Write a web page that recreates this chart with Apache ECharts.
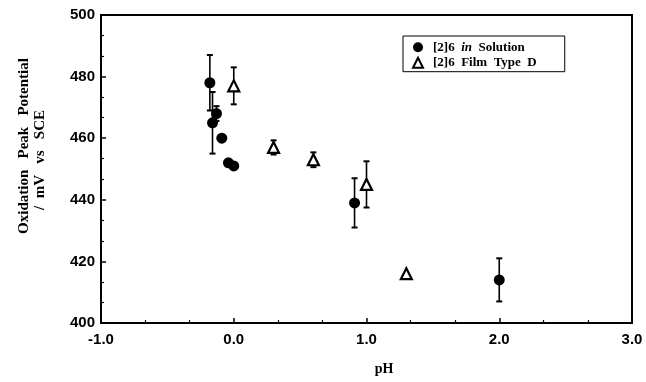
<!DOCTYPE html>
<html>
<head>
<meta charset="utf-8">
<script src="https://cdn.jsdelivr.net/npm/echarts@6/dist/echarts.min.js"></script>
<style>html,body{margin:0;padding:0;background:#fff;}#c{width:646px;height:382px;}</style>
</head>
<body>
<div id="c"></div>
<script>
// pH values, oxidation peak potentials (mV vs SCE) and error half-widths
const solutionPH = [-0.18, -0.16, -0.13, -0.09, -0.04, 0.0, 0.91, 2.0];
const solutionMV = [478, 465, 468, 460, 452, 451, 439, 414];
const solutionErr = [9, 10, 2.4, 0, 0, 0, 8, 7];

const filmPH = [0.0, 0.3, 0.6, 1.0, 1.3];
const filmMV = [477, 457, 453, 445, 416];
const filmErr = [6, 2.3, 2.4, 7.5, 0];

const xTicks = [-1.0, 0.0, 1.0, 2.0, 3.0];
const yTicks = [400, 420, 440, 460, 480, 500];

const seriesNames = ['[2]6 in Solution', '[2]6 Film Type D'];
const yTitle1 = 'Oxidation   Peak   Potential';
const yTitle2 = '/  mV   vs   SCE';
const xTitle = 'pH';

function zip3(a, b, c) { return a.map((v, i) => [v, b[i], c[i]]); }

function errorBar(params, api) {
  const x = api.value(0), y = api.value(1), e = api.value(2);
  if (!e) return null;
  const t = api.coord([x, y + e]);
  const b = api.coord([x, y - e]);
  const w = 3;
  return {
    type: 'group',
    children: [
      { type: 'line', shape: { x1: t[0], y1: t[1], x2: b[0], y2: b[1] }, style: { stroke: '#000', lineWidth: 1.6 } },
      { type: 'line', shape: { x1: t[0] - w, y1: t[1], x2: t[0] + w, y2: t[1] }, style: { stroke: '#000', lineWidth: 2 } },
      { type: 'line', shape: { x1: b[0] - w, y1: b[1], x2: b[0] + w, y2: b[1] }, style: { stroke: '#000', lineWidth: 2 } }
    ]
  };
}

const serif = 'Liberation Serif, Times New Roman, serif';
const chart = echarts.init(document.getElementById('c'), null, { renderer: 'canvas' });
const tickFont = { fontFamily: 'Liberation Sans, Arial, sans-serif', fontWeight: 'bold', fontSize: 15, color: '#000' };
chart.setOption({
  animation: false,
  backgroundColor: '#fff',
  grid: { left: 101, right: 14, top: 15, bottom: 59, show: true, borderColor: '#000', borderWidth: 2, backgroundColor: 'transparent' },
  legend: {
    orient: 'vertical',
    left: 403, top: 36,
    data: [
      { name: seriesNames[0], icon: 'circle' },
      { name: seriesNames[1], icon: 'triangle' }
    ],
    itemWidth: 10, itemHeight: 10, itemGap: 2.6,
    padding: [4.7, 28, 2.4, 9],
    borderColor: '#000', borderWidth: 1,
    backgroundColor: '#fff',
    formatter: function (n) { return n.replace(' in ', '  {i|in}  ').replace(/ (Film|Type|D)/g, '  $1'); },
    textStyle: {
      fontFamily: serif, fontWeight: 'bold', fontSize: 13, color: '#000', lineHeight: 10,
      padding: [0, 0, 0, 5],
      rich: { i: { fontFamily: serif, fontStyle: 'italic', fontWeight: 'bold', fontSize: 13, color: '#000', lineHeight: 10 } }
    }
  },
  graphic: [
    { type: 'text', x: 24, y: 146, rotation: Math.PI / 2, style: { text: yTitle1, font: 'bold 15px ' + serif, fill: '#000', textAlign: 'center', textVerticalAlign: 'middle' } },
    { type: 'text', x: 40, y: 160, rotation: Math.PI / 2, style: { text: yTitle2, font: 'bold 15px ' + serif, fill: '#000', textAlign: 'center', textVerticalAlign: 'middle' } },
    { type: 'text', x: 384, y: 369, style: { text: xTitle, font: 'bold 14px ' + serif, fill: '#000', textAlign: 'center', textVerticalAlign: 'middle' } }
  ],
  xAxis: {
    type: 'value', min: xTicks[0], max: xTicks[xTicks.length - 1], interval: 1,
    axisLine: { onZero: false, lineStyle: { color: '#000', width: 2 } },
    axisTick: { inside: true, length: 5, lineStyle: { color: '#000', width: 1.5 } },
    minorTick: { show: true, splitNumber: 3, length: 3, lineStyle: { color: '#000', width: 1.2 } },
    splitLine: { show: false },
    axisLabel: Object.assign({ margin: 9, formatter: v => v.toFixed(1) }, tickFont)
  },
  yAxis: {
    type: 'value', min: yTicks[0], max: yTicks[yTicks.length - 1], interval: 20,
    axisLine: { onZero: false, lineStyle: { color: '#000', width: 2 } },
    axisTick: { inside: true, length: 5, lineStyle: { color: '#000', width: 1.5 } },
    minorTick: { show: true, splitNumber: 3, length: 3, lineStyle: { color: '#000', width: 1.2 } },
    splitLine: { show: false },
    axisLabel: Object.assign({ margin: 6 }, tickFont)
  },
  series: [
    { type: 'custom', renderItem: errorBar, data: zip3(solutionPH, solutionMV, solutionErr), z: 2, silent: true },
    { type: 'custom', renderItem: errorBar, data: zip3(filmPH, filmMV, filmErr), z: 2, silent: true },
    {
      name: seriesNames[0], type: 'scatter', symbol: 'circle', symbolSize: 11, z: 3,
      itemStyle: { color: '#000', opacity: 1 },
      data: solutionPH.map((v, i) => [v, solutionMV[i]])
    },
    {
      name: seriesNames[1], type: 'scatter', symbol: 'triangle', symbolSize: [11, 11], z: 3,
      itemStyle: { color: '#fff', borderColor: '#000', borderWidth: 2.2, opacity: 1 },
      data: filmPH.map((v, i) => [v, filmMV[i]])
    }
  ]
});
</script>
</body>
</html>
